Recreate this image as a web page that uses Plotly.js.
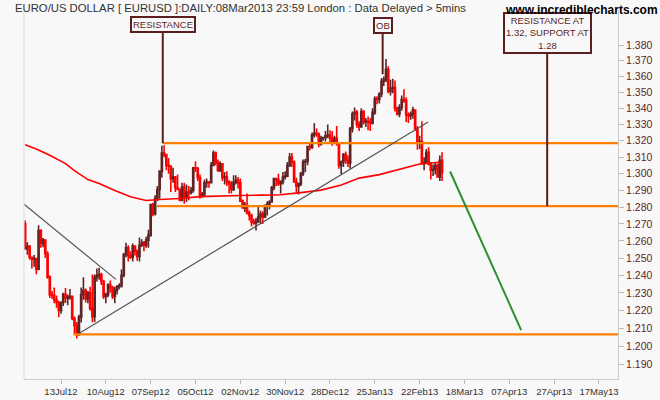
<!DOCTYPE html>
<html>
<head>
<meta charset="utf-8">
<script src="https://cdn.plot.ly/plotly-3.0.1.min.js"></script>
<style>html,body{margin:0;padding:0;background:#f8f8f8;}#chart{width:660px;height:400px;}</style>
</head>
<body>
<div id="chart"></div>
<script>
// EUR/USD daily bars, 21 Jun 2012 .. 08 Mar 2013 (one entry per trading day)
const openP = [1.2700,1.2555,1.2570,1.2505,1.2493,1.2497,1.2436,1.2661,1.2585,1.2605,
1.2525,1.2390,1.2290,1.2285,1.2260,1.2245,1.2200,1.2245,1.2292,1.2270,
1.2275,1.2280,1.2155,1.2115,1.2065,1.2162,1.2290,1.2315,1.2265,1.2300,
1.2210,1.2165,1.2390,1.2400,1.2405,1.2365,1.2280,1.2290,1.2345,1.2330,
1.2280,1.2315,1.2335,1.2340,1.2400,1.2520,1.2560,1.2515,1.2505,1.2570,
1.2540,1.2510,1.2575,1.2590,1.2575,1.2605,1.2635,1.2815,1.2760,1.2850,
1.2905,1.3015,1.3125,1.3115,1.3050,1.3045,1.2970,1.2980,1.2915,1.2905,
1.2840,1.2920,1.2855,1.2890,1.2885,1.2900,1.3035,1.3030,1.2975,1.2865,
1.2875,1.2945,1.2950,1.2945,1.3050,1.3125,1.3065,1.3020,1.3060,1.2975,
1.2980,1.2950,1.2940,1.2905,1.2950,1.2960,1.2945,1.2835,1.2795,1.2810,
1.2765,1.2750,1.2710,1.2705,1.2715,1.2740,1.2760,1.2740,1.2810,1.2815,
1.2830,1.2915,1.2970,1.2965,1.2940,1.2950,1.2980,1.2985,1.3050,1.3100,
1.3070,1.2950,1.2925,1.2940,1.3000,1.3070,1.3075,1.3165,1.3160,1.3235,
1.3245,1.3240,1.3180,1.3215,1.3220,1.3230,1.3235,1.3215,1.3195,1.3215,
1.3185,1.3050,1.3070,1.3115,1.3080,1.3065,1.3275,1.3365,1.3375,1.3300,
1.3285,1.3380,1.3315,1.3320,1.3315,1.3310,1.3375,1.3460,1.3455,1.3490,
1.3570,1.3580,1.3645,1.3505,1.3525,1.3530,1.3400,1.3365,1.3405,1.3455,
1.3450,1.3360,1.3355,1.3365,1.3390,1.3275,1.3190,1.3195,1.3060,1.3065,
1.3130,1.3055,1.3020,1.3025,1.3050,1.2980,1.3080];
const highP = [1.2720,1.2593,1.2575,1.2510,1.2518,1.2500,1.2692,1.2668,1.2617,1.2610,
1.2540,1.2400,1.2310,1.2330,1.2285,1.2255,1.2250,1.2300,1.2327,1.2290,
1.2322,1.2285,1.2165,1.2135,1.2175,1.2330,1.2390,1.2325,1.2310,1.2335,
1.2405,1.2405,1.2440,1.2444,1.2415,1.2375,1.2300,1.2355,1.2370,1.2340,
1.2335,1.2345,1.2355,1.2435,1.2530,1.2590,1.2575,1.2540,1.2585,1.2575,
1.2550,1.2620,1.2610,1.2600,1.2625,1.2665,1.2815,1.2825,1.2870,1.2925,
1.3020,1.3170,1.3172,1.3120,1.3095,1.3050,1.3035,1.2985,1.2995,1.2910,
1.2945,1.2945,1.2935,1.2925,1.2920,1.3035,1.3075,1.3040,1.2995,1.2890,
1.2965,1.2970,1.2955,1.3070,1.3140,1.3135,1.3085,1.3075,1.3060,1.3010,
1.3015,1.2960,1.2955,1.2990,1.2990,1.2980,1.2970,1.2845,1.2830,1.2880,
1.2780,1.2760,1.2730,1.2735,1.2800,1.2780,1.2775,1.2815,1.2835,1.2840,
1.2925,1.2975,1.2975,1.3000,1.2960,1.3010,1.3015,1.3070,1.3125,1.3125,
1.3080,1.2975,1.2945,1.3010,1.3085,1.3090,1.3170,1.3185,1.3250,1.3308,
1.3275,1.3250,1.3230,1.3225,1.3260,1.3300,1.3265,1.3260,1.3230,1.3290,
1.3190,1.3080,1.3125,1.3135,1.3110,1.3285,1.3380,1.3405,1.3390,1.3320,
1.3400,1.3390,1.3340,1.3350,1.3340,1.3400,1.3475,1.3475,1.3500,1.3590,
1.3600,1.3711,1.3665,1.3580,1.3585,1.3575,1.3410,1.3425,1.3480,1.3520,
1.3470,1.3375,1.3380,1.3410,1.3395,1.3290,1.3230,1.3320,1.3100,1.3150,
1.3160,1.3070,1.3055,1.3065,1.3060,1.3110,1.3130];
const lowP = [1.2549,1.2520,1.2490,1.2440,1.2450,1.2406,1.2430,1.2560,1.2563,1.2500,
1.2380,1.2270,1.2265,1.2240,1.2215,1.2162,1.2181,1.2225,1.2242,1.2230,
1.2260,1.2144,1.2067,1.2042,1.2057,1.2132,1.2260,1.2245,1.2240,1.2200,
1.2133,1.2135,1.2365,1.2375,1.2345,1.2265,1.2240,1.2275,1.2300,1.2265,
1.2240,1.2290,1.2320,1.2330,1.2390,1.2505,1.2480,1.2495,1.2480,1.2515,
1.2485,1.2480,1.2565,1.2540,1.2560,1.2560,1.2625,1.2745,1.2750,1.2835,
1.2850,1.2975,1.3100,1.3020,1.3000,1.2890,1.2945,1.2890,1.2900,1.2835,
1.2835,1.2820,1.2830,1.2840,1.2875,1.2885,1.3010,1.2955,1.2850,1.2855,
1.2865,1.2915,1.2915,1.2940,1.3045,1.3050,1.3010,1.3010,1.2955,1.2935,
1.2925,1.2880,1.2880,1.2895,1.2935,1.2910,1.2830,1.2790,1.2770,1.2755,
1.2720,1.2685,1.2695,1.2661,1.2705,1.2700,1.2700,1.2735,1.2750,1.2785,
1.2825,1.2900,1.2925,1.2925,1.2880,1.2935,1.2965,1.2980,1.3040,1.3040,
1.2950,1.2880,1.2875,1.2925,1.2985,1.3010,1.3050,1.3140,1.3150,1.3220,
1.3225,1.3160,1.3170,1.3200,1.3195,1.3215,1.3185,1.3170,1.3190,1.3170,
1.3030,1.2998,1.3040,1.3060,1.3040,1.3030,1.3250,1.3325,1.3280,1.3260,
1.3280,1.3300,1.3285,1.3265,1.3260,1.3300,1.3360,1.3425,1.3430,1.3470,
1.3540,1.3565,1.3495,1.3480,1.3495,1.3380,1.3355,1.3345,1.3385,1.3435,
1.3315,1.3310,1.3330,1.3335,1.3260,1.3145,1.3150,1.3055,1.3020,1.3060,
1.3050,1.2965,1.2985,1.2995,1.2975,1.2955,1.2955];
const closeP = [1.2555,1.2570,1.2505,1.2493,1.2497,1.2436,1.2661,1.2585,1.2605,1.2525,
1.2390,1.2290,1.2285,1.2260,1.2245,1.2200,1.2245,1.2292,1.2270,1.2275,
1.2280,1.2155,1.2115,1.2065,1.2162,1.2290,1.2315,1.2265,1.2300,1.2210,
1.2165,1.2390,1.2400,1.2405,1.2365,1.2280,1.2290,1.2345,1.2330,1.2280,
1.2315,1.2335,1.2340,1.2400,1.2520,1.2560,1.2515,1.2505,1.2570,1.2540,
1.2510,1.2575,1.2590,1.2575,1.2605,1.2635,1.2815,1.2760,1.2850,1.2905,
1.3015,1.3125,1.3115,1.3050,1.3045,1.2970,1.2980,1.2915,1.2905,1.2840,
1.2920,1.2855,1.2890,1.2885,1.2900,1.3035,1.3030,1.2975,1.2865,1.2875,
1.2945,1.2950,1.2945,1.3050,1.3125,1.3065,1.3020,1.3060,1.2975,1.2980,
1.2950,1.2940,1.2905,1.2950,1.2960,1.2945,1.2835,1.2795,1.2810,1.2765,
1.2750,1.2710,1.2705,1.2715,1.2740,1.2760,1.2740,1.2810,1.2815,1.2830,
1.2915,1.2970,1.2965,1.2940,1.2950,1.2980,1.2985,1.3050,1.3100,1.3070,
1.2950,1.2925,1.2940,1.3000,1.3070,1.3075,1.3165,1.3160,1.3235,1.3245,
1.3240,1.3180,1.3215,1.3220,1.3230,1.3235,1.3215,1.3195,1.3215,1.3185,
1.3050,1.3070,1.3115,1.3080,1.3065,1.3275,1.3365,1.3375,1.3300,1.3285,
1.3380,1.3315,1.3320,1.3315,1.3310,1.3375,1.3460,1.3455,1.3490,1.3570,
1.3580,1.3645,1.3505,1.3525,1.3530,1.3400,1.3365,1.3405,1.3455,1.3450,
1.3360,1.3355,1.3365,1.3390,1.3275,1.3190,1.3195,1.3060,1.3065,1.3130,
1.3055,1.3020,1.3025,1.3050,1.2980,1.3080,1.3005];

// moving average (bar number, value)
const maBar = [0,5,11,18,22,28,33,40,47,54,60,69,78,87,96,105,114,123,132,141,149,158,167,176,186];
const maVal = [1.3175,1.3149,1.3111,1.3061,1.3018,1.2964,1.2940,1.2898,1.2861,1.2839,1.2845,1.2851,1.2862,1.2867,1.2869,1.2871,1.2873,1.2886,1.2901,1.2931,1.2973,1.2994,1.3025,1.3058,1.3070];

// horizontal support / resistance levels and where they start (bar number)
const levelVal = [1.3185, 1.2805, 1.2065];
const levelStart = [61.5, 58.8, 21.5];
// drawn trend lines (bar number, price)
const downTrendBar = [-0.5, 40.5], downTrendVal = [1.2817, 1.2377];
const upTrendBar = [24, 179.8], upTrendVal = [1.2070, 1.3315];
const projBar = [189.6, 221.3], projVal = [1.3013, 1.2089];

// axis ticks
const xTickBar = [16,36,56,76,96,116,136,156,176,196,216,236,256];
const xTickText = ['13Jul12','10Aug12','07Sep12','05Oct12','02Nov12','30Nov12','28Dec12','25Jan13','22Feb13','18Mar13','07Apr13','27Apr13','17May13'];
const yTickVal = [1.19,1.20,1.21,1.22,1.23,1.24,1.25,1.26,1.27,1.28,1.29,1.30,1.31,1.32,1.33,1.34,1.35,1.36,1.37,1.38];
const yTickText = yTickVal.map(v => v.toFixed(3));

const X_MIN = -0.51, X_MAX = 264.5;
const bars = openP.map((_, i) => i);
const FONT = 'Liberation Sans, Arial, sans-serif';
const MAROON = '#5c1f1f';
const UPC = '#5e2424', DNC = '#ff0000';

const traces = [
  {type:'candlestick', x:bars, open:openP, high:highP, low:lowP, close:closeP,
   increasing:{line:{color:UPC,width:1.6}, fillcolor:UPC},
   decreasing:{line:{color:DNC,width:1.6}, fillcolor:DNC},
   whiskerwidth:0, hoverinfo:'skip', showlegend:false},
  {type:'scatter', mode:'lines', x:maBar, y:maVal, line:{color:'#ff0000', width:1.6}, hoverinfo:'skip', showlegend:false}
];
levelVal.forEach((v, k) => traces.push({type:'scatter', mode:'lines', x:[levelStart[k], X_MAX], y:[v, v],
  line:{color:'#ff8000', width:2.2}, hoverinfo:'skip', showlegend:false}));
traces.push({type:'scatter', mode:'lines', x:downTrendBar, y:downTrendVal, line:{color:'#555555', width:1.2}, hoverinfo:'skip', showlegend:false});
traces.push({type:'scatter', mode:'lines', x:upTrendBar, y:upTrendVal, line:{color:'#555555', width:1.2}, hoverinfo:'skip', showlegend:false});
traces.push({type:'scatter', mode:'lines', x:projBar, y:projVal, line:{color:'#2f8f2f', width:2}, hoverinfo:'skip', showlegend:false});

function callout(text, xBar, yVal, ay, size) {
  return {x:xBar, y:Math.log10(yVal), xref:'x', yref:'y', text:text, showarrow:true,
    arrowhead:0, arrowwidth:2, arrowcolor:MAROON, ax:0, ay:ay, standoff:0,
    bordercolor:MAROON, borderwidth:2, borderpad:1, bgcolor:'#f8f8f8',
    font:{family:FONT, size:size, color:MAROON}};
}

const layout = {
  width:660, height:400,
  margin:{l:24, r:42, t:10, b:21},
  paper_bgcolor:'#f8f8f8', plot_bgcolor:'#f8f8f8',
  showlegend:false, hovermode:false,
  title:{text:'EURO/US DOLLAR [ EURUSD ]:DAILY:08Mar2013 23:59 London : Data Delayed > 5mins',
    xref:'container', yref:'container', x:15/660, xanchor:'left', y:1-8/400, yanchor:'middle',
    font:{family:FONT, size:11.3, color:'#333333'}},
  xaxis:{range:[X_MIN, X_MAX], tickmode:'array', tickvals:xTickBar, ticktext:xTickText, tickangle:0,
    showgrid:false, zeroline:false, showline:true, linecolor:'#cccccc', linewidth:1,
    ticks:'outside', ticklen:4, tickcolor:'#bbbbbb', automargin:false,
    tickfont:{family:FONT, size:9.5, color:'#333333'}, rangeslider:{visible:false}, fixedrange:true},
  yaxis:{type:'log', side:'right', range:[0.07253, 0.14694], tickmode:'array', tickvals:yTickVal, ticktext:yTickText,
    showgrid:false, zeroline:false, showline:true, linecolor:'#cccccc', linewidth:1,
    ticks:'outside', ticklen:5, tickcolor:'#bbbbbb', automargin:false,
    tickfont:{family:FONT, size:10.5, color:MAROON}, fixedrange:true},
  shapes:[{type:'line', xref:'paper', yref:'paper', x0:0, x1:0, y0:0, y1:1, line:{color:'#dddddd', width:1}}],
  annotations:[
    callout('RESISTANCE', 61.4, 1.3185, -119, 9.5),
    callout('OB', 159.5, 1.3614, -49, 9.5),
    callout('RESISTANCE AT<br>1.32, SUPPORT AT<br>1.28', 232.9, 1.2805, -173, 9.5),
    {xref:'paper', yref:'paper', x:(503-24)/594, y:1.0, xanchor:'left', yanchor:'middle',
     text:'<b>www.incrediblecharts.com</b>', showarrow:false,
     font:{family:FONT, size:12, color:'#000000'}}
  ]
};

Plotly.newPlot('chart', traces, layout, {displayModeBar:false, staticPlot:true});
</script>
</body>
</html>
